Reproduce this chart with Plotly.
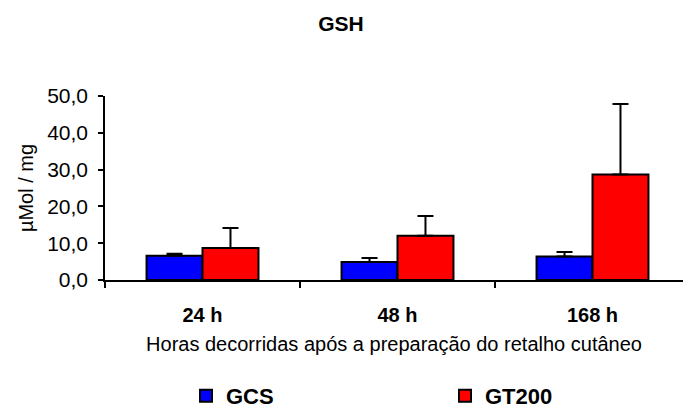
import plotly.graph_objects as go

categories = ["24 h", "48 h", "168 h"]
gcs_values = [6.6, 4.9, 6.4]
gcs_err = [0.5, 1.1, 1.2]
gt200_values = [8.7, 12.0, 28.7]
gt200_err = [5.4, 5.4, 19.1]
y_ticks = [0, 10, 20, 30, 40, 50]
y_ticktext = ["0,0", "10,0", "20,0", "30,0", "40,0", "50,0"]

FONT = "Liberation Sans, Arial, sans-serif"
W, H = 683, 408
L, R, T, B = 105, 0, 96, 128
PW = W - L - R

fig = go.Figure()
fig.add_trace(go.Bar(
    name="GCS", x=categories, y=gcs_values, legend="legend",
    marker=dict(color="#0000FF", line=dict(color="black", width=2)),
    error_y=dict(type="data", array=gcs_err, arrayminus=[0] * len(gcs_err),
                 symmetric=False, color="black", thickness=2, width=8),
))
fig.add_trace(go.Bar(
    name="GT200", x=categories, y=gt200_values, legend="legend2",
    marker=dict(color="#FF0000", line=dict(color="black", width=2)),
    error_y=dict(type="data", array=gt200_err, arrayminus=[0] * len(gt200_err),
                 symmetric=False, color="black", thickness=2, width=8),
))

legend_common = dict(
    orientation="h", xanchor="left",
    yref="container", y=1 - 396 / H, yanchor="middle",
    font=dict(size=22, family=FONT, color="black", weight="bold"),
    bgcolor="rgba(0,0,0,0)",
)

fig.update_layout(
    width=W, height=H,
    margin=dict(l=L, r=R, t=T, b=B, pad=0),
    paper_bgcolor="white", plot_bgcolor="white",
    font=dict(family=FONT, size=20, color="black"),
    barmode="group", bargap=0.426, bargroupgap=0,
    title=dict(text="<b>GSH</b>", x=341 / W, xanchor="center",
               y=1 - 24 / H, yanchor="middle", yref="container",
               font=dict(size=21, family=FONT, color="black")),
    showlegend=True,
    legend=dict(x=(186 - L) / PW, **legend_common),
    legend2=dict(x=(445 - L) / PW, **legend_common),
    xaxis=dict(
        type="category",
        range=[-0.5, 2.5 - 7 / 195],
        tickmode="array", tickvals=categories,
        ticktext=["<b>" + c + "</b>" for c in categories],
        tickson="boundaries", ticks="outside", ticklen=6, tickwidth=1.5,
        tickcolor="black", ticklabelstandoff=16,
        tickfont=dict(size=20),
        showline=True, linecolor="black", linewidth=1.5,
        showgrid=False, zeroline=False,
        title=dict(text="Horas decorridas após a preparação do retalho cutâneo",
                   standoff=12, font=dict(size=20)),
        automargin=False,
    ),
    yaxis=dict(
        range=[0, 50], tickmode="array", tickvals=y_ticks, ticktext=y_ticktext,
        ticks="outside", ticklen=5, tickwidth=1.5, tickcolor="black",
        ticklabelstandoff=6, tickfont=dict(size=21),
        showline=True, linecolor="black", linewidth=1.5,
        showgrid=False, zeroline=False,
        title=dict(text="µMol / mg", standoff=8, font=dict(size=20)),
        automargin=False,
    ),
)

fig.write_html("out.html")
